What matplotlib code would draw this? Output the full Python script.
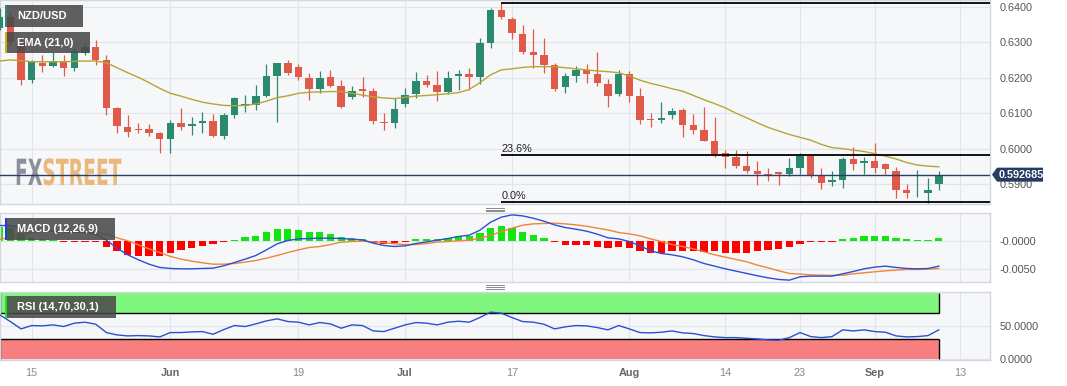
import numpy as np
import pandas as pd
import matplotlib
matplotlib.use("Agg")
import matplotlib.pyplot as plt
from matplotlib import patheffects
from matplotlib.colors import to_rgba
from matplotlib.patches import Rectangle, Polygon
from matplotlib.lines import Line2D
from matplotlib.transforms import Affine2D, IdentityTransform, Bbox

plt.rcParams['font.family'] = ['Liberation Sans', 'DejaVu Sans']

# NZD/USD daily candles, 2023-05-10 .. 2023-09-11 (weekdays)
first_day = "2023-05-10"
last_axis_day = "2023-09-13"

opens = [0.6340, 0.6372, 0.6300, 0.6193, 0.6242, 0.6234, 0.6248, 0.6228, 0.6269, 0.6287,
         0.6250, 0.6114, 0.6062, 0.6056, 0.6055, 0.6043, 0.6026, 0.6071, 0.6063, 0.6071,
         0.6079, 0.6037, 0.6095, 0.6120, 0.6123, 0.6148, 0.6205, 0.6242, 0.6231, 0.6200,
         0.6167, 0.6201, 0.6177, 0.6145, 0.6167, 0.6162, 0.6075, 0.6071, 0.6125, 0.6154,
         0.6192, 0.6179, 0.6159, 0.6206, 0.6210, 0.6201, 0.6297, 0.6392, 0.6364, 0.6323,
         0.6273, 0.6264, 0.6236, 0.6175, 0.6205, 0.6223, 0.6210, 0.6182, 0.6154, 0.6210,
         0.6149, 0.6084, 0.6081, 0.6095, 0.6109, 0.6066, 0.6052, 0.6021, 0.5989, 0.5977,
         0.5952, 0.5938, 0.5929, 0.5935, 0.5929, 0.5947, 0.5980, 0.5923, 0.5907, 0.5912,
         0.5971, 0.5959, 0.5966, 0.5956, 0.5938, 0.5884, 0.5874, 0.5876, 0.5900]
highs = [0.6395, 0.6385, 0.6315, 0.6250, 0.6264, 0.6273, 0.6264, 0.6283, 0.6297, 0.6306,
         0.6264, 0.6118, 0.6095, 0.6071, 0.6069, 0.6048, 0.6081, 0.6114, 0.6088, 0.6104,
         0.6098, 0.6100, 0.6146, 0.6151, 0.6179, 0.6238, 0.6242, 0.6250, 0.6238, 0.6214,
         0.6220, 0.6223, 0.6193, 0.6176, 0.6201, 0.6170, 0.6100, 0.6142, 0.6170, 0.6217,
         0.6208, 0.6220, 0.6220, 0.6222, 0.6226, 0.6311, 0.6395, 0.6411, 0.6370, 0.6348,
         0.6336, 0.6311, 0.6242, 0.6212, 0.6233, 0.6240, 0.6273, 0.6195, 0.6223, 0.6220,
         0.6170, 0.6100, 0.6132, 0.6116, 0.6114, 0.6098, 0.6118, 0.6088, 0.5996, 0.5996,
         0.5994, 0.5964, 0.5947, 0.5935, 0.5973, 0.5987, 0.5980, 0.5945, 0.5938, 0.5977,
         0.6006, 0.5977, 0.6015, 0.5961, 0.5949, 0.5900, 0.5940, 0.5918, 0.5937]
lows = [0.6335, 0.6290, 0.6180, 0.6186, 0.6217, 0.6231, 0.6205, 0.6220, 0.6265, 0.6236,
        0.6095, 0.6043, 0.6032, 0.6043, 0.6035, 0.5987, 0.5989, 0.6054, 0.6039, 0.6045,
        0.6032, 0.6026, 0.6086, 0.6104, 0.6109, 0.6146, 0.6076, 0.6207, 0.6194, 0.6136,
        0.6157, 0.6173, 0.6116, 0.6139, 0.6147, 0.6069, 0.6053, 0.6059, 0.6118, 0.6142,
        0.6173, 0.6134, 0.6153, 0.6165, 0.6165, 0.6182, 0.6285, 0.6364, 0.6308, 0.6267,
        0.6226, 0.6212, 0.6163, 0.6156, 0.6189, 0.6184, 0.6177, 0.6118, 0.6148, 0.6132,
        0.6069, 0.6060, 0.6071, 0.6085, 0.6034, 0.6041, 0.6022, 0.5977, 0.5945, 0.5947,
        0.5931, 0.5899, 0.5909, 0.5898, 0.5923, 0.5929, 0.5917, 0.5886, 0.5895, 0.5888,
        0.5940, 0.5930, 0.5932, 0.5930, 0.5860, 0.5860, 0.5865, 0.5848, 0.5885]
closes = [0.6372, 0.6300, 0.6193, 0.6245, 0.6233, 0.6248, 0.6228, 0.6276, 0.6287, 0.6250,
          0.6114, 0.6064, 0.6048, 0.6054, 0.6045, 0.6026, 0.6071, 0.6060, 0.6069, 0.6079,
          0.6037, 0.6095, 0.6142, 0.6126, 0.6148, 0.6205, 0.6242, 0.6212, 0.6201, 0.6167,
          0.6200, 0.6178, 0.6118, 0.6163, 0.6162, 0.6078, 0.6071, 0.6112, 0.6151, 0.6192,
          0.6179, 0.6159, 0.6199, 0.6210, 0.6201, 0.6297, 0.6392, 0.6372, 0.6325, 0.6273,
          0.6264, 0.6236, 0.6167, 0.6205, 0.6222, 0.6210, 0.6184, 0.6149, 0.6210, 0.6149,
          0.6081, 0.6081, 0.6086, 0.6107, 0.6067, 0.6053, 0.6022, 0.5984, 0.5977, 0.5952,
          0.5938, 0.5929, 0.5924, 0.5929, 0.5945, 0.5980, 0.5926, 0.5904, 0.5912, 0.5971,
          0.5957, 0.5966, 0.5946, 0.5942, 0.5884, 0.5874, 0.5876, 0.5884, 0.5927]

ema21 = [0.6247, 0.6250, 0.6248, 0.6245, 0.6245, 0.6245, 0.6245, 0.6246, 0.6247, 0.6247,
         0.6242, 0.6228, 0.6214, 0.6201, 0.6186, 0.6170, 0.6156, 0.6148, 0.6139, 0.6131,
         0.6126, 0.6122, 0.6121, 0.6122, 0.6126, 0.6134, 0.6144, 0.6149, 0.6156, 0.6159,
         0.6160, 0.6161, 0.6161, 0.6156, 0.6151, 0.6146, 0.6143, 0.6141, 0.6145, 0.6148,
         0.6150, 0.6152, 0.6155, 0.6158, 0.6167, 0.6186, 0.6208, 0.6222, 0.6225, 0.6229,
         0.6231, 0.6231, 0.6231, 0.6228, 0.6225, 0.6222, 0.6219, 0.6217, 0.6214, 0.6205,
         0.6193, 0.6184, 0.6177, 0.6169, 0.6162, 0.6150, 0.6138, 0.6127, 0.6115, 0.6100,
         0.6087, 0.6073, 0.6060, 0.6050, 0.6040, 0.6032, 0.6024, 0.6012, 0.6003, 0.6000,
         0.5996, 0.5992, 0.5986, 0.5979, 0.5971, 0.5961, 0.5954, 0.5951, 0.5949]

macd_line = [0.00268, 0.00268, 0.00232, 0.00197, 0.00179, 0.00168, 0.00156, 0.00150, 0.00144, 0.00115,
             0.00009, -0.00132, -0.00250, -0.00338, -0.00415, -0.00473, -0.00491, -0.00497, -0.00497, -0.00491,
             -0.00485, -0.00444, -0.00385, -0.00326, -0.00262, -0.00162, -0.00056, 0.00003, 0.00032, 0.00038,
             0.00044, 0.00044, 0.00038, 0.00026, 0.00015, -0.00044, -0.00085, -0.00103, -0.00091, -0.00050,
             -0.00021, 0.00009, 0.00038, 0.00074, 0.00097, 0.00185, 0.00326, 0.00415, 0.00456, 0.00438,
             0.00397, 0.00344, 0.00279, 0.00232, 0.00203, 0.00168, 0.00115, 0.00050, 0.00032, -0.00015,
             -0.00091, -0.00179, -0.00226, -0.00250, -0.00285, -0.00338, -0.00403, -0.00450, -0.00497, -0.00538,
             -0.00579, -0.00620, -0.00656, -0.00685, -0.00697, -0.00638, -0.00626, -0.00626, -0.00626, -0.00585,
             -0.00544, -0.00497, -0.00467, -0.00450, -0.00473, -0.00491, -0.00497, -0.00491, -0.00450]
signal_line = [0.00021, 0.00062, 0.00103, 0.00150, 0.00162, 0.00168, 0.00168, 0.00162, 0.00156, 0.00144,
               0.00115, 0.00050, -0.00003, -0.00074, -0.00144, -0.00209, -0.00279, -0.00326, -0.00362, -0.00391,
               -0.00415, -0.00415, -0.00403, -0.00379, -0.00350, -0.00309, -0.00262, -0.00209, -0.00162, -0.00121,
               -0.00103, -0.00068, -0.00026, -0.00015, -0.00009, -0.00021, -0.00032, -0.00056, -0.00068, -0.00068,
               -0.00050, -0.00026, -0.00015, -0.00003, 0.00009, 0.00044, 0.00091, 0.00162, 0.00221, 0.00273,
               0.00297, 0.00303, 0.00309, 0.00297, 0.00279, 0.00256, 0.00221, 0.00191, 0.00144, 0.00121,
               0.00085, 0.00032, -0.00015, -0.00068, -0.00103, -0.00144, -0.00197, -0.00250, -0.00291, -0.00332,
               -0.00373, -0.00432, -0.00479, -0.00532, -0.00579, -0.00591, -0.00603, -0.00609, -0.00614, -0.00609,
               -0.00585, -0.00567, -0.00550, -0.00532, -0.00520, -0.00509, -0.00509, -0.00503, -0.00491]
macd_hist = [0.00250, 0.00221, 0.00132, 0.00044, 0.00021, 0.00003, -0.00015, -0.00015, -0.00009, -0.00026,
             -0.00103, -0.00179, -0.00250, -0.00262, -0.00262, -0.00262, -0.00209, -0.00173, -0.00132, -0.00097,
             -0.00062, -0.00032, 0.00015, 0.00062, 0.00091, 0.00150, 0.00209, 0.00209, 0.00197, 0.00162,
             0.00150, 0.00115, 0.00062, 0.00044, 0.00026, -0.00038, -0.00056, -0.00044, -0.00021, 0.00021,
             0.00032, 0.00038, 0.00056, 0.00079, 0.00091, 0.00138, 0.00232, 0.00256, 0.00232, 0.00162,
             0.00103, 0.00050, -0.00032, -0.00074, -0.00074, -0.00085, -0.00103, -0.00132, -0.00109, -0.00132,
             -0.00179, -0.00209, -0.00209, -0.00179, -0.00179, -0.00191, -0.00203, -0.00191, -0.00209, -0.00209,
             -0.00209, -0.00191, -0.00173, -0.00150, -0.00115, -0.00050, -0.00032, -0.00026, -0.00021, 0.00021,
             0.00044, 0.00074, 0.00085, 0.00085, 0.00050, 0.00021, 0.00015, 0.00015, 0.00044]

rsi = [66.8, 56.6, 45.4, 50.5, 50.0, 51.5, 49.0, 54.1, 55.6, 52.5,
       39.8, 36.2, 34.7, 35.2, 34.7, 33.2, 39.8, 39.8, 40.8, 41.3,
       37.2, 44.4, 50.5, 49.0, 53.0, 57.6, 60.7, 56.6, 55.6, 51.5,
       55.1, 53.0, 46.4, 51.5, 50.5, 42.3, 41.3, 46.4, 51.5, 55.1,
       54.1, 51.5, 55.6, 57.1, 55.6, 62.7, 70.9, 69.4, 62.7, 56.6,
       55.6, 52.5, 45.4, 48.5, 50.5, 50.0, 47.4, 43.9, 50.5, 45.4,
       39.8, 39.3, 40.3, 42.3, 39.3, 38.3, 35.2, 33.2, 32.1, 32.1,
       31.1, 30.1, 28.6, 28.1, 32.1, 39.8, 33.7, 32.1, 33.7, 43.9,
       42.3, 43.9, 41.3, 40.3, 34.7, 33.2, 33.7, 35.2, 43.9]

last_price = 0.592685
fib_high = 0.6411
fib_low = 0.5849
fib_start_day = "2023-07-14"
fib_levels = [1.0, 0.236, 0.0]
fib_labelled = [0.236, 0.0]   # the 100% label sits above the visible area

tick_days = ["2023-05-15", "2023-06-01", "2023-06-19", "2023-07-03", "2023-07-17",
             "2023-08-01", "2023-08-14", "2023-08-23", "2023-09-01", "2023-09-13"]
tick_labels = ["15", "Jun", "19", "Jul", "17", "Aug", "14", "23", "Sep", "13"]
month_labels = {"Jun", "Jul", "Aug", "Sep"}

price_ticks = [0.59, 0.60, 0.61, 0.62, 0.63, 0.64]
macd_ticks = [0.0, -0.005]
macd_tick_labels = ["-0.0000", "-0.0050"]
rsi_ticks = [50, 0]
rsi_tick_labels = ["50.0000", "0.0000"]


class Watermark(patheffects.AbstractPathEffect):
    # condensed lettering, two colours split at a pixel column
    def __init__(self, sx, split_x, left_color, right_color):
        super().__init__()
        self.sx = sx
        self.split_x = split_x
        self.colors = (to_rgba(left_color), to_rgba(right_color))

    def draw_path(self, renderer, gc, tpath, affine, rgbFace=None):
        aff = Affine2D().scale(self.sx, 1) + affine
        spans = ((0, self.split_x), (self.split_x, 1e5))
        for col, (x0, x1) in zip(self.colors, spans):
            g = renderer.new_gc()
            g.copy_properties(gc)
            g.set_clip_rectangle(Bbox.from_extents(x0, 0, x1, 1e5))
            renderer.draw_path(g, tpath, aff, col)
            g.restore()


W, H = 1067, 386
fig = plt.figure(figsize=(W / 100, H / 100), dpi=100, facecolor="white")


def box(x0, y0, x1, y1):
    return [x0 / W, 1 - y1 / H, (x1 - x0) / W, (y1 - y0) / H]


ax = fig.add_axes(box(0, 0, 990, 204))
ax_macd = fig.add_axes(box(0, 213, 990, 282))
ax_rsi = fig.add_axes(box(0, 292, 990, 360))

days = pd.bdate_range(first_day, last_axis_day)
pos = {d.strftime("%Y-%m-%d"): i for i, d in enumerate(days)}
n = len(closes)
x = np.arange(n)
tick_pos = [pos[d] for d in tick_days]

o = np.array(opens)
c = np.array(closes)
up = c >= o
green, red = "#2b8a6e", "#df5a48"
colors = np.where(up, green, red)

panel_bg = "#f6f7f9"
grid_c = "#e1e4e9"
spine_c = "#d3d7dd"

for a in (ax, ax_macd, ax_rsi):
    a.set_facecolor(panel_bg)
    a.set_xlim(0.03, 92.8)
    a.set_xticks(tick_pos)
    a.yaxis.tick_right()
    a.grid(True, color=grid_c, lw=0.8, zorder=0)
    a.set_axisbelow(True)
    a.tick_params(length=0, labelsize=7.8, labelcolor="#555555", pad=7)
    for s in a.spines.values():
        s.set_color(spine_c)
        s.set_linewidth(1.0)
    if a is not ax_rsi:
        a.tick_params(labelbottom=False)

# price panel
ax.set_ylim(0.58442, 0.64189)
ax.set_yticks(price_ticks)
ax.set_yticklabels([f"{v:.4f}" for v in price_ticks])

ax.vlines(x, lows, highs, colors=colors, lw=0.9, zorder=3)
body_h = np.maximum(np.abs(c - o), 0.00005)
ax.bar(x, body_h, bottom=np.minimum(o, c), width=0.7, color=colors, lw=0, zorder=4)
ax.plot(x, ema21, color="#b5a535", lw=1.0, zorder=5)
ax.axhline(last_price, color="#2b3d63", lw=1.0, zorder=6)

fib_x0 = pos[fib_start_day]
for lvl in fib_levels:
    y = fib_low + lvl * (fib_high - fib_low)
    ax.hlines(y, fib_x0, 92.8, color="black", lw=1.3, zorder=6)
    if lvl in fib_labelled:
        ax.annotate(f"{lvl * 100:.1f}%", (fib_x0, y), xytext=(0, 1), textcoords="offset points",
                    ha="left", va="bottom", fontsize=7.8, color="#222222", zorder=6)

ax.text(15 / W, 1 - 185 / H, "FXSTREET", transform=fig.transFigure, family="DejaVu Sans",
        fontweight="bold", fontsize=26, color="#ebb87c", zorder=1,
        path_effects=[Watermark(0.52, 43, "#8c909b", "#ebb87c")])

# MACD panel
ax_macd.set_ylim(-0.0073, 0.00489)
ax_macd.set_yticks(macd_ticks)
ax_macd.set_yticklabels(macd_tick_labels)
hist = np.array(macd_hist)
hist_h = np.where(hist >= 0, np.maximum(hist, 0.00018), np.minimum(hist, -0.00018))
ax_macd.bar(x, hist_h, width=0.68, color=np.where(hist >= 0, "#11e611", "#ff0000"), lw=0, zorder=2)
ax_macd.plot(x, signal_line, color="#f0843c", lw=1.0, zorder=3)
ax_macd.plot(x, macd_line, color="#2d4fd0", lw=1.0, zorder=4)

# RSI panel
ax_rsi.set_ylim(-2.0, 101.6)
ax_rsi.set_yticks(rsi_ticks)
ax_rsi.set_yticklabels(rsi_tick_labels)
ax_rsi.fill_between([x[0], x[-1]], 70, 100, color="#7ff77f", lw=0, zorder=1)
ax_rsi.fill_between([x[0], x[-1]], 0, 30, color="#f77f7f", lw=0, zorder=1)
ax_rsi.hlines([70, 30], x[0], x[-1], color="black", lw=1.0, zorder=2)
ax_rsi.vlines([x[0], x[-1]], 70, 100, color="black", lw=1.0, zorder=2)
ax_rsi.vlines([x[0], x[-1]], 0, 30, color="black", lw=1.0, zorder=2)
ax_rsi.plot(x, rsi, color="#2d4fd0", lw=1.0, zorder=3)
ax_rsi.set_xticklabels(tick_labels)
ax_rsi.tick_params(axis="x", pad=6)
for lbl in ax_rsi.get_xticklabels():
    if lbl.get_text() in month_labels:
        lbl.set_fontweight("bold")
        lbl.set_color("#666666")
    else:
        lbl.set_color("#888888")


# legend tags in the panels' top-left corners
def tag(x0, y0, x1, y1, text, mark):
    fig.add_artist(Rectangle((x0 / W, 1 - y1 / H), (x1 - x0) / W, (y1 - y0) / H,
                             transform=fig.transFigure, facecolor="#4a4a4a", alpha=0.88,
                             edgecolor="none", zorder=10))
    fig.add_artist(Rectangle((x0 / W, 1 - y1 / H), 2.4 / W, (y1 - y0) / H,
                             transform=fig.transFigure, facecolor=mark, edgecolor="none", zorder=11))
    fig.text((x0 + 12) / W, 1 - (y0 + y1) / 2 / H, text, color="white", fontweight="bold",
             fontsize=8.0, ha="left", va="center", zorder=12)


tag(5, 5, 83, 27, "NZD/USD", "#2b8a6e")
tag(5, 32, 90, 53, "EMA (21,0)", "#c8b400")
tag(5, 218, 115, 240, "MACD (12,26,9)", "#1f3fe0")
tag(5, 296, 116, 318, "RSI (14,70,30,1)", "#22dd22")

# pane resize handles
for yy in (207.5, 209.5, 211.5, 284.5, 286.5, 288.5):
    fig.add_artist(Line2D([486 / W, 504 / W], [1 - yy / H] * 2, color="#8a8a8a", lw=0.7))

# last price tag on the price axis
xr = ax.transAxes.transform((1, 0))[0]
yp = ax.transData.transform((0, last_price))[1]
pts = [(xr + 2, yp), (xr + 7, yp + 7), (xr + 53, yp + 7), (xr + 53, yp - 7), (xr + 7, yp - 7)]
fig.add_artist(Polygon(pts, closed=True, transform=IdentityTransform(),
                       facecolor="#263d63", edgecolor="none", zorder=12))
fig.text(xr + 31, yp, f"{last_price:.6f}", transform=IdentityTransform(), color="white",
         fontweight="bold", fontsize=7.8, ha="center", va="center", zorder=13)

fig.savefig("out.png", dpi=100, facecolor="white")
